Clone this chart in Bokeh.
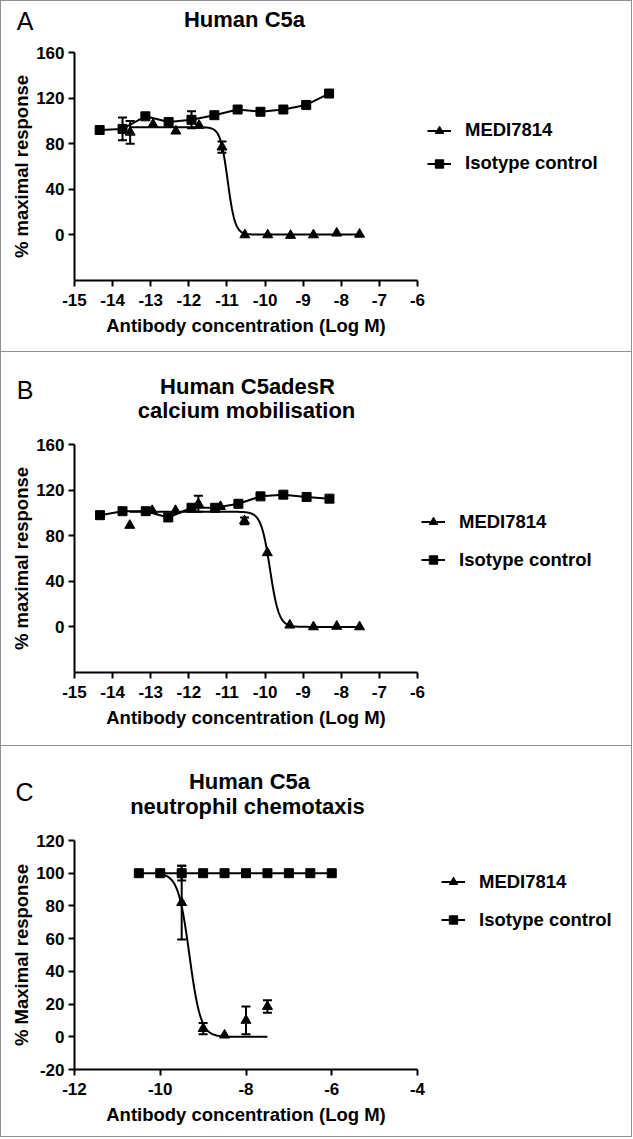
import numpy as np
from bokeh.plotting import figure
from bokeh.models import (ColumnDataSource, Label, Legend, LegendItem, FixedTicker,
                          Whisker, TeeHead, Range1d, PrintfTickFormatter, LinearAxis)
from bokeh.layouts import column
from bokeh.embed import file_html
from bokeh.resources import INLINE

FONT = "Liberation Sans"

# ---------------- Panel A: Human C5a ----------------
a_iso_x = [-14.34, -13.74, -13.14, -12.53, -11.93, -11.33, -10.72, -10.12, -9.52, -8.92, -8.32]
a_iso_y = [92, 93, 104, 99, 101, 105, 110, 108, 110, 114, 124]
a_iso_err = [0, 10, 0, 0, 7.5, 0, 0, 0, 0, 0, 0]
a_medi_x = [-13.54, -12.94, -12.34, -11.73, -11.13, -10.53, -9.93, -9.33, -8.73, -8.12, -7.52]
a_medi_y = [90, 97, 91, 96, 77, 0, 0, -0.5, 0, 1.5, 0.5]
a_medi_err = [10, 0, 0, 0, 5, 0, 0, 0, 0, 0, 0]
a_fit = dict(top=94.5, bottom=0.3, logic50=-10.98, hill=4.5, lo=-13.54, hi=-7.52)

# ---------------- Panel B: Human C5adesR calcium mobilisation ----------------
b_iso_x = [-14.33, -13.74, -13.13, -12.54, -11.93, -11.31, -10.70, -10.12, -9.52, -8.91, -8.31]
b_iso_y = [98, 101.5, 101.5, 96, 104.5, 104.5, 108, 114.5, 116, 114, 112.5]
b_iso_err = [0, 0, 0, 0, 0, 0, 0, 0, 0, 0, 0]
b_medi_x = [-13.55, -12.96, -12.35, -11.75, -11.17, -10.54, -9.94, -9.35, -8.73, -8.12, -7.52]
b_medi_y = [89, 102, 102, 108, 105.5, 93, 65, 1.5, 0, 0.5, 0]
b_medi_err = [0, 0, 0, 7, 0, 3, 0, 0, 0, 0, 0]
b_fit = dict(top=101, bottom=0, logic50=-9.87, hill=3.7, lo=-13.55, hi=-7.52)

# ---------------- Panel C: Human C5a neutrophil chemotaxis ----------------
c_iso_x = [-10.5, -10.0, -9.5, -9.0, -8.5, -8.0, -7.5, -7.0, -6.5, -6.0]
c_iso_y = [100, 100, 100, 100, 100, 100, 100, 100, 100, 100]
c_iso_err = [0, 0, 4.5, 0, 0, 0, 0, 0, 0, 0]
c_medi_x = [-9.5, -9.0, -8.5, -8.0, -7.5]
c_medi_y = [82, 5, 1, 10, 18.5]
c_medi_err = [22.5, 3.5, 0, 8.5, 3.8]
c_fit = dict(top=100, bottom=0, logic50=-9.32, hill=3.3, lo=-10.0, hi=-7.5)

x_ticks_ab = [-15, -14, -13, -12, -11, -10, -9, -8, -7, -6]
y_ticks_ab = [0, 40, 80, 120, 160]
x_ticks_c = [-12, -10, -8, -6, -4]
y_ticks_c = [-20, 0, 20, 40, 60, 80, 100, 120]

x_label = "Antibody concentration (Log M)"
legend_labels = ["MEDI7814", "Isotype control"]

W = 632
LEFT = 73              # common left border of every figure (frames are aligned)
AXIS_PX = 343          # pixel length of the x axis
BORDER = "#8f8f8f"


def frame_styles(top=False, bottom=False):
    s = {"box-sizing": "border-box",
         "border-left": f"1px solid {BORDER}", "border-right": f"1px solid {BORDER}"}
    if top:
        s["border-top"] = f"1px solid {BORDER}"
    if bottom:
        s["border-bottom"] = f"1px solid {BORDER}"
    return s


def fit_curve(f):
    xs = np.linspace(f["lo"], f["hi"], 400)
    ys = f["bottom"] + (f["top"] - f["bottom"]) / (1 + 10 ** ((xs - f["logic50"]) * f["hill"]))
    return xs, ys


def add_errors(p, xs, ys, es):
    bx = [x for x, e in zip(xs, es) if e > 0]
    up = [y + e for y, e in zip(ys, es) if e > 0]
    lo = [y - e for y, e in zip(ys, es) if e > 0]
    if not bx:
        return
    src = ColumnDataSource(dict(x=bx, upper=up, lower=lo))
    w = Whisker(base="x", upper="upper", lower="lower", source=src, line_width=2,
                line_color="black", level="glyph",
                upper_head=TeeHead(size=9, line_width=2, line_color="black"),
                lower_head=TeeHead(size=9, line_width=2, line_color="black"))
    p.add_layout(w)


def style_text_axis(ax, size, weight, standoff):
    ax.axis_line_color = None
    ax.major_tick_line_color = None
    ax.minor_tick_line_color = None
    ax.major_tick_out = 0
    ax.major_tick_in = 0
    ax.major_label_standoff = standoff
    ax.major_label_text_font = FONT
    ax.major_label_text_font_size = size
    ax.major_label_text_font_style = weight
    ax.major_label_text_color = "black"


def header(h, letter, titles, top_border=False):
    p = figure(width=W, height=h, x_range=Range1d(0, W - LEFT), y_range=Range1d(0, h),
               output_backend="svg", toolbar_location=None, title=None,
               min_border_left=LEFT, min_border_right=0, min_border_top=0, min_border_bottom=0,
               x_axis_location=None, y_axis_location="left",
               styles=frame_styles(top=top_border))
    p.outline_line_color = None
    p.grid.visible = False
    p.border_fill_color = "white"
    # panel letter drawn as the single tick label of an invisible left axis
    ly, ltext = letter
    ax = p.yaxis[0]
    ax.ticker = FixedTicker(ticks=[ly])
    ax.major_label_overrides = {ly: ltext}
    style_text_axis(ax, "25px", "normal", 41)
    for tx, ty, ttext in titles:
        p.add_layout(Label(x=tx, y=ty, x_units="screen", y_units="screen", text=ttext,
                           text_font=FONT, text_font_size="22px", text_font_style="bold",
                           text_align="center", text_baseline="middle", text_color="black"))
    return p


def chart(h, fh, bottom, xb, yr, xticks, yticks, ylabel,
          iso, medi, fit, legend_pos, legend_spacing):
    top = h - fh - bottom
    frame_w = W - LEFT
    x_end = xb[0] + frame_w * (xb[1] - xb[0]) / AXIS_PX
    p = figure(width=W, height=h, x_range=Range1d(xb[0], x_end), y_range=Range1d(*yr),
               output_backend="svg", toolbar_location=None, title=None,
               min_border_left=LEFT, min_border_right=0,
               min_border_top=top, min_border_bottom=bottom,
               styles=frame_styles(bottom=True))
    p.outline_line_color = None
    p.grid.visible = False
    p.background_fill_color = "white"
    p.border_fill_color = "white"

    xa = p.xaxis[0]
    ya = p.yaxis[0]
    for ax, ticks in ((xa, xticks), (ya, yticks)):
        ax.ticker = FixedTicker(ticks=ticks)
        ax.formatter = PrintfTickFormatter(format="%d")
        ax.axis_line_width = 2
        ax.axis_line_color = "black"
        ax.major_tick_line_width = 2
        ax.major_tick_line_color = "black"
        ax.major_tick_out = 6
        ax.major_tick_in = 0
        ax.minor_tick_line_color = None
        ax.major_label_text_font = FONT
        ax.major_label_text_font_size = "17px"
        ax.major_label_text_font_style = "bold"
        ax.major_label_text_color = "black"
    xa.bounds = xb
    xa.major_label_standoff = 7
    ya.major_label_standoff = 4
    ya.axis_label = ylabel
    ya.axis_label_standoff = 1
    ya.axis_label_text_font = FONT
    ya.axis_label_text_font_size = "18.5px"
    ya.axis_label_text_font_style = "bold"
    ya.axis_label_text_color = "black"

    # x axis title: centred under the drawn axis (the frame is wider than the axis)
    xc = (xb[0] + xb[1]) / 2.0
    xl = LinearAxis(ticker=FixedTicker(ticks=[xc]), major_label_overrides={xc: x_label})
    style_text_axis(xl, "18.5px", "bold", 6)
    p.add_layout(xl, "below")

    ix, iy, ie = iso
    mx, my, me = medi
    cx, cy = fit_curve(fit)
    iso_line = p.line(ix, iy, line_color="black", line_width=2)
    medi_line = p.line(cx, cy, line_color="black", line_width=2)
    add_errors(p, mx, my, me)
    add_errors(p, ix, iy, ie)
    medi_pts = p.scatter(mx, my, marker="triangle", size=10, fill_color="black", line_color="black")
    iso_pts = p.scatter(ix, iy, marker="square", size=9, fill_color="black", line_color="black")

    legend = Legend(items=[LegendItem(label=legend_labels[0], renderers=[medi_line, medi_pts]),
                           LegendItem(label=legend_labels[1], renderers=[iso_line, iso_pts])],
                    location=legend_pos, orientation="vertical",
                    label_text_font=FONT, label_text_font_size="18.5px",
                    label_text_font_style="bold", label_text_color="black",
                    glyph_width=24, glyph_height=21, label_height=21,
                    label_standoff=14, spacing=legend_spacing, padding=0, margin=0,
                    border_line_color=None, background_fill_alpha=0)
    p.add_layout(legend)
    return p


hA = header(42, (22.8, "A"), [(170, 24.5, "Human C5a")], top_border=True)
pA = chart(310, 228, 72, (-15, -6), (-40, 160), x_ticks_ab, y_ticks_ab,
           "% maximal response",
           (a_iso_x, a_iso_y, a_iso_err), (a_medi_x, a_medi_y, a_medi_err), a_fit,
           (353, 106), 11)

hB = header(82, (44.8, "B"),
            [(173, 48, "Human C5adesR"), (172, 24, "calcium mobilisation")])
pB = chart(312, 228, 74, (-15, -6), (-40, 160), x_ticks_ab, y_ticks_ab,
           "% maximal response",
           (b_iso_x, b_iso_y, b_iso_err), (b_medi_x, b_medi_y, b_medi_err), b_fit,
           (347, 101.5), 16)

hC = header(84, (38.3, "C"),
            [(175, 48.7, "Human C5a"), (173, 24.2, "neutrophil chemotaxis")])
pC = chart(307, 229, 68, (-12, -4), (-20, 120), x_ticks_c, y_ticks_c,
           "% Maximal response",
           (c_iso_x, c_iso_y, c_iso_err), (c_medi_x, c_medi_y, c_medi_err), c_fit,
           (367, 138.5), 16)

layout = column(hA, pA, hB, pB, hC, pC, spacing=0)
open("out.html", "w").write(file_html(layout, INLINE))
